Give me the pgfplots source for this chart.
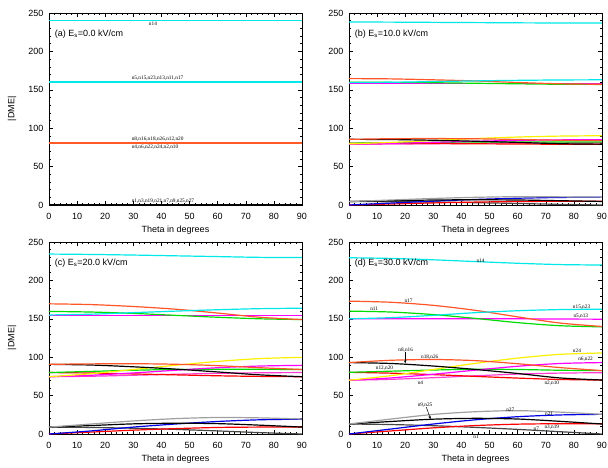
\documentclass[border=0pt]{standalone}
\usepackage{fontspec}
\setmainfont{Liberation Sans}
\newfontfamily\labf{Liberation Serif}
\usepackage{pgfplots}
\usepackage{pgfplotstable}
\pgfplotsset{compat=1.18}
\usetikzlibrary{arrows.meta}

\definecolor{cC}{RGB}{0,232,232}
\definecolor{cO}{RGB}{255,85,40}
\definecolor{cG}{RGB}{0,220,0}
\definecolor{cM}{RGB}{255,0,255}
\definecolor{cY}{RGB}{250,240,0}
\definecolor{cR}{RGB}{255,0,0}
\definecolor{cB}{RGB}{0,0,230}
\definecolor{cK}{RGB}{0,0,0}
\definecolor{cGr}{RGB}{160,160,160}
\definecolor{cDg}{RGB}{70,70,70}
\definecolor{cP}{RGB}{255,60,210}

\pgfplotstableread{
t   c14    o17    c15    g11    m5    o18   k8    y24   m6    g12   r2    p4    g27   k9   b21   r3   g1
0   238.3  164.6  159.3  160.0  158   85.5  85.5  79.6  79.6  80.5  80.5  79.0  4.5   4.5  0.0   0.0  4.5
15  238.1  164.2  159.8  159.7  158   86.3  85.2  81.5  80.3  81.0  80.3  79.3  6.5   5.5  2.5   1.3  4.3
30  237.8  163.0  160.7  159.2  158   86.5  84.3  84.0  81.6  81.6  80.0  79.8  8.5   6.5  5.0   2.7  3.9
45  237.5  161.5  161.6  158.5  158   86.2  83.0  86.5  83.0  82.0  79.7  80.3  10.0  6.8  7.2   3.8  3.0
60  237.2  159.5  162.3  157.8  158   85.3  81.5  88.5  84.1  82.2  79.4  80.7  10.8  6.5  8.8   4.5  2.0
75  237.0  157.8  162.8  157.2  158   84.3  79.8  89.7  84.8  82.1  79.1  80.9  10.6  5.6  9.8   4.8  0.8
90  237.0  157.2  163.0  157.0  158   83.8  79.2  90.2  85.0  82.0  79.0  81.0  10.2  4.6  10.2  4.8  0.0
}\tabB

\pgfplotstableread{
t   c14    o17    c15    g11    m5    o18   k8    y24   m6    g12   r2    p4    g27   k9    b21   r3   g1
0   234.3  169.5  155.0  159.6  154   90.7  90.7  74.6  74.6  80.0  80.0  74.6  9.0   9.0   0.0   0.0  9.0
15  233.8  168.5  156.0  158.8  154   91.3  89.8  78.5  76.5  81.5  79.4  75.2  13.0  11.0  4.0   2.5  8.5
30  233.0  166.0  158.0  157.0  154   91.5  87.5  84.0  79.5  83.0  78.2  76.5  17.0  13.2  9.0   5.0  7.5
45  232.0  162.5  160.0  154.5  154   90.8  84.5  89.5  83.0  84.0  77.0  77.8  20.0  14.0  13.0  7.0  6.0
60  231.0  157.5  161.8  152.0  154   89.0  80.8  94.5  86.3  84.3  75.8  79.0  21.5  13.5  16.3  8.5  4.0
75  230.0  152.0  163.2  150.0  154   86.3  77.0  98.2  88.5  84.2  75.0  79.7  21.0  11.5  18.5  9.0  1.8
90  229.7  149.0  163.8  149.0  154   84.0  74.6  99.8  89.4  84.0  74.6  80.0  19.5  9.0   19.3  9.0  0.0
}\tabC

\pgfplotstableread{
t   c14    o17    c15    g11    m5     o18   k8    y24    m6    g12   r2    p4    g27   k9    b21   r3    g1
0   229.5  173.0  150.0  160.0  150.0  93.0  93.0  70.0   70.0  80.3  80.3  70.0  13.0  13.0  0.0   0.0   13.0
15  228.6  171.5  151.5  158.8  150.0  96.0  91.8  76.0   73.0  81.8  79.2  71.2  19.5  16.3  6.5   4.0   12.3
30  226.8  167.5  154.5  155.5  150.0  97.0  88.5  84.0   77.8  83.3  77.3  73.3  25.5  19.3  13.0  8.0   10.8
45  224.5  161.0  158.0  150.5  150.0  95.5  84.0  92.0   83.2  84.3  75.0  75.8  29.0  20.4  18.5  11.0  8.6
60  222.3  152.5  160.5  145.0  150.0  91.5  78.8  98.8   88.2  84.0  72.8  78.0  30.4  19.5  22.5  12.8  6.0
75  220.6  144.5  162.0  141.0  149.7  86.5  73.0  103.7  91.8  83.0  71.0  79.3  28.5  16.5  24.8  13.4  3.0
90  220.0  140.0  162.5  139.5  149.5  82.5  70.3  105.5  93.0  82.5  70.2  79.8  25.6  13.0  25.6  13.4  0.0
}\tabD

\newcommand{\drawall}[1]{%
\addplot[cM] table[x=t,y=m5]{#1};
\addplot[cG] table[x=t,y=g11]{#1};
\addplot[cO] table[x=t,y=o17]{#1};
\addplot[cC] table[x=t,y=c15]{#1};
\addplot[cC] table[x=t,y=c14]{#1};
\addplot[cP] table[x=t,y=p4]{#1};
\addplot[cR] table[x=t,y=r2]{#1};
\addplot[cG] table[x=t,y=g12]{#1};
\addplot[cM] table[x=t,y=m6]{#1};
\addplot[cY] table[x=t,y=y24]{#1};
\addplot[cK] table[x=t,y=k8]{#1};
\addplot[cO] table[x=t,y=o18]{#1};
\addplot[cDg] table[x=t,y=g1]{#1};
\addplot[cR] table[x=t,y=r3]{#1};
\addplot[cB] table[x=t,y=b21]{#1};
\addplot[cK] table[x=t,y=k9]{#1};
\addplot[cGr] table[x=t,y=g27]{#1};
}

\pgfplotsset{
  myax/.style={
    width=253pt, height=192pt, scale only axis,
    xmin=0, xmax=90, ymin=0, ymax=250,
    xtick={0,10,...,90}, ytick={0,50,...,250},
    minor x tick num=4, minor y tick num=4,
    tick align=inside, major tick length=4pt, minor tick length=2pt,
    tick style={black, line width=0.5pt},
    axis line style={line width=0.6pt},
    every tick label/.append style={font=\fontsize{9}{10}\selectfont},
    xticklabel style={yshift=-4.5pt},
    yticklabel style={xshift=-2pt},
    /pgf/number format/assume math mode=true,
    xlabel={Theta in degrees},
    xlabel style={at={(axis description cs:0.5,0)}, anchor=center, yshift=-25pt, font=\fontsize{9}{10}\selectfont},
    ylabel style={at={(axis description cs:-0.146,0.5)}, anchor=center, rotate=0, font=\fontsize{9}{10}\selectfont},
    clip=false,
    every axis plot/.append style={no markers, smooth, line width=1.2pt},
  },
}
\tikzset{
  ann/.style={anchor=west, inner sep=0pt, font=\fontsize{5.3}{6}\selectfont\labf},
  ttl/.style={anchor=west, inner sep=0pt, font=\fontsize{9}{10}\selectfont},
}

\begin{document}
\begin{tikzpicture}
\path[use as bounding box] (0,0) rectangle (608pt,468pt);

% (a)
\begin{axis}[myax, at={(49pt,263pt)}, anchor=south west, ylabel={|DME|}]
\addplot[color={rgb,255:red,255;green,90;blue,40}, line width=1.6pt, sharp plot] coordinates {(0,80.5) (30,80.5) (60,80.5) (90,80.5)};
\addplot[cK, line width=1.5pt] coordinates {(0,0.3) (90,0.3)};
\addplot[cC, line width=1.5pt] coordinates {(0,160) (90,160)};
\addplot[cC, line width=1.5pt] coordinates {(0,240) (90,240)};
\node[ttl] at (axis cs:2,223) {(a) E\textsubscript{s}=0.0 kV/cm};
\node[ann] at (axis cs:35.5,235.5) {n14};
\node[ann] at (axis cs:29.4,165) {n5,n15,n23,n13,n11,n17};
\node[ann] at (axis cs:29.4,86) {n8,n16,n18,n26,n12,n20};
\node[ann] at (axis cs:29.4,75.5) {n4,n6,n22,n24,n2,n10};
\node[ann] at (axis cs:29.4,5.6) {n1,n3,n19,n21,n7,n9,n25,n27};
\end{axis}

% (b)
\begin{axis}[myax, at={(349pt,263pt)}, anchor=south west]
\drawall{\tabB}
\node[ttl] at (axis cs:2,223) {(b) E\textsubscript{s}=10.0 kV/cm};
\end{axis}

% (c)
\begin{axis}[myax, at={(49pt,34pt)}, anchor=south west, ylabel={|DME|}]
\drawall{\tabC}
\node[ttl] at (axis cs:2,223) {(c) E\textsubscript{s}=20.0 kV/cm};
\end{axis}

% (d)
\begin{axis}[myax, at={(349pt,34pt)}, anchor=south west]
\drawall{\tabD}
\node[ttl] at (axis cs:2,223) {(d) E\textsubscript{s}=30.0 kV/cm};
\node[ann] at (axis cs:45.3,225.3) {n14};
\node[ann] at (axis cs:19.7,173.2) {n17};
\node[ann] at (axis cs:7.5,162.8) {n11};
\node[ann] at (axis cs:79.6,165.4) {n15,n23};
\node[ann] at (axis cs:79.8,154) {n5,n13};
\node[ann] at (axis cs:17.5,109.4) {n8,n16};
\draw[black, line width=0.5pt, -{Stealth[length=3pt,width=2.5pt]}] (axis cs:20,106.5) -- (axis cs:20,92);
\node[ann] at (axis cs:25.6,100.7) {n18,n26};
\node[ann] at (axis cs:79.6,108.5) {n24};
\node[ann] at (axis cs:81.5,97.6) {n6,n22};
\node[ann] at (axis cs:9.5,85.5) {n12,n20};
\node[ann] at (axis cs:24.4,67.3) {n4};
\node[ann] at (axis cs:69.5,66) {n2,n10};
\node[ann] at (axis cs:24.4,37.8) {n9,n25};
\draw[black, line width=0.5pt, -{Stealth[length=3pt,width=2.5pt]}] (axis cs:27.5,35) -- (axis cs:29,19.5);
\node[ann] at (axis cs:55.9,32.1) {n27};
\node[ann] at (axis cs:69.7,26) {n21};
\node[ann] at (axis cs:69.5,9.5) {n3,n19};
\node[ann] at (axis cs:65.6,6.5) {n7};
\node[ann] at (axis cs:44.2,-3.5) {n1};
\end{axis}
\end{tikzpicture}
\end{document}
